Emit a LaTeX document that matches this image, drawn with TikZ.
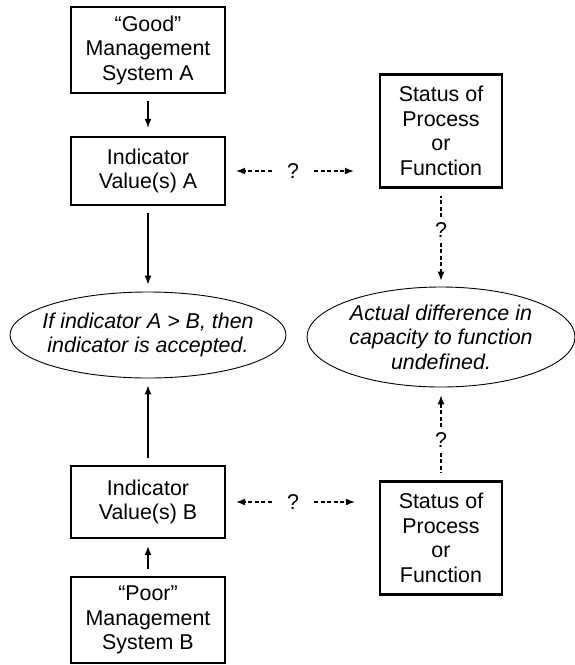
\documentclass[tikz,border=0pt]{standalone}
\usepackage{fontspec}
\setmainfont{Liberation Sans}
\usetikzlibrary{positioning}
\usetikzlibrary{shapes.geometric}
\usetikzlibrary{arrows.meta}

\tikzset{
  txt/.style={font=\fontsize{21.4}{24.5}\selectfont, align=center},
  sysbox/.style={txt, draw, line width=2.4pt, inner sep=0pt, minimum width=154pt},
  statbox/.style={txt, draw, line width=2.4pt, inner sep=0pt, minimum width=122pt, minimum height=113pt},
  oval/.style={ellipse, draw, line width=0.9pt, inner sep=0pt},
  ovaltxt/.style={txt, font=\fontsize{21.4}{24.5}\selectfont\itshape},
  arr/.style={line width=1.1pt, -{Latex[length=9pt,width=7pt]}},
  qline/.style={line width=1.1pt, dash pattern=on 4pt off 2.5pt},
  qarr/.style={arr, qline},
  qmark/.style={txt, inner xsep=15pt, inner ysep=5pt}
}

\begin{document}
\begin{tikzpicture}[x=1pt, y=-1pt]
    \useasboundingbox (0,0) rectangle (575,665);

    % Left column: management systems and indicators
    \node[sysbox, minimum height=86pt] (good) at (148,50) {“Good”\\Management\\System A};
    \node[sysbox, minimum height=68pt] (indA) at (148,171) {Indicator\\Value(s) A};
    \node[oval, minimum width=276pt, minimum height=86pt] (ellL) at (148,335) {};
    \node[ovaltxt] (ellLtxt) at (ellL) {If indicator A > B, then\\indicator is accepted.};
    \node[sysbox, minimum height=72pt] (indB) at (148,502) {Indicator\\Value(s) B};
    \node[sysbox, minimum height=86pt] (poor) at (148,620) {“Poor”\\Management\\System B};

    % Right column: status of process
    \node[statbox] (statA) at (441,131) {Status of\\Process\\or\\Function};
    \node[oval, minimum width=268pt, minimum height=100pt] (ellR) at (441,337) {};
    \node[ovaltxt] (ellRtxt) at (ellR) {Actual difference in\\capacity to function\\undefined.};
    \node[statbox] (statB) at (441,538) {Status of\\Process\\or\\Function};

    % Solid arrows
    \draw[arr, shorten <=7pt, shorten >=8pt] (good) -- (indA);
    \draw[arr, shorten <=7pt, shorten >=7pt] (indA) -- (ellL);
    \draw[arr, shorten <=7pt, shorten >=7pt] (indB) -- (ellL);
    \draw[arr, shorten <=7pt, shorten >=7pt] (poor) -- (indB);

    % Question arrows, top
    \node[qmark] (qA) at (293,171) {?};
    \draw[qarr, shorten >=10pt] (qA) -- (qA -| indA.east);
    \draw[qarr, shorten >=25pt] (qA) -- (qA -| statA.west);
    \node[qmark] (qA2) at (441,230) {?};
    \draw[qline, shorten >=7pt] (qA2) -- (statA);
    \draw[qarr, shorten >=6pt] (qA2) -- (ellR);

    % Question arrows, bottom
    \node[qmark] (qB) at (293,502) {?};
    \draw[qarr, shorten >=10pt] (qB) -- (qB -| indB.east);
    \draw[qarr, shorten >=24pt] (qB) -- (qB -| statB.west);
    \node[qmark] (qB2) at (441,440) {?};
    \draw[qline, shorten >=7pt] (qB2) -- (statB);
    \draw[qarr, shorten >=8pt] (qB2) -- (ellR);
\end{tikzpicture}
\end{document}
